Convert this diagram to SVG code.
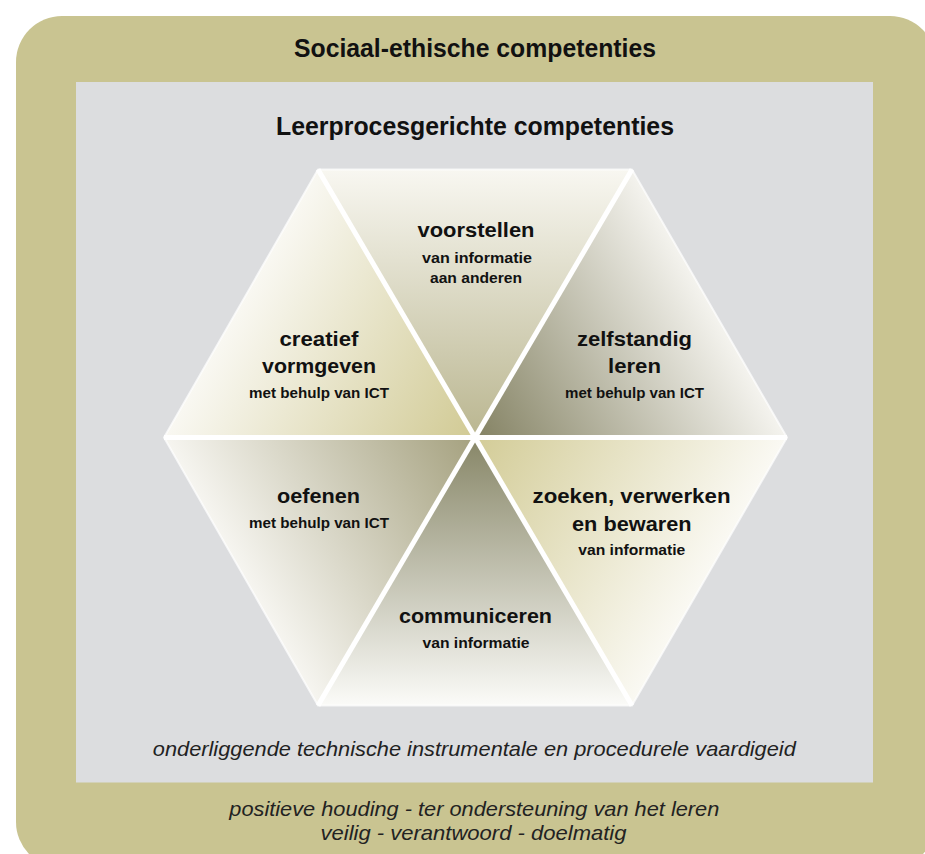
<svg xmlns="http://www.w3.org/2000/svg" width="925" height="854" viewBox="0 0 925 854">
  <style>
    .title { font-family: "Liberation Sans", Arial, sans-serif; font-weight: bold; font-size: 25px; fill: #111; text-anchor: middle; }
    .head { font-family: "Liberation Sans", Arial, sans-serif; font-weight: bold; font-size: 19.5px; fill: #111; text-anchor: middle; }
    .sub { font-family: "Liberation Sans", Arial, sans-serif; font-weight: bold; font-size: 14px; fill: #111; text-anchor: middle; }
    .note { font-family: "Liberation Sans", Arial, sans-serif; font-style: italic; font-size: 21px; fill: #222; text-anchor: middle; }
    .divider { stroke: #ffffff; stroke-width: 5; stroke-linecap: butt; }
  </style>
  <defs>
    <!-- each wedge fades from its tone at the hub to near-white at the rim -->
    <linearGradient id="gTop" gradientUnits="userSpaceOnUse" x1="475" y1="437.5" x2="475" y2="169.5">
      <stop offset="0" stop-color="#bab690"/>
      <stop offset="1" stop-color="#f8f7f1"/>
    </linearGradient>
    <linearGradient id="gTopRight" gradientUnits="userSpaceOnUse" x1="475" y1="437.5" x2="709.5" y2="303.5">
      <stop offset="0" stop-color="#848263"/>
      <stop offset="1" stop-color="#f4f3ee"/>
    </linearGradient>
    <linearGradient id="gTopLeft" gradientUnits="userSpaceOnUse" x1="475" y1="437.5" x2="241" y2="303.5">
      <stop offset="0" stop-color="#d1ca94"/>
      <stop offset="1" stop-color="#f9f8f2"/>
    </linearGradient>
    <linearGradient id="gBottomLeft" gradientUnits="userSpaceOnUse" x1="475" y1="437.5" x2="241" y2="571.5">
      <stop offset="0" stop-color="#a5a17f"/>
      <stop offset="1" stop-color="#f6f5f0"/>
    </linearGradient>
    <linearGradient id="gBottom" gradientUnits="userSpaceOnUse" x1="475" y1="437.5" x2="475" y2="705.5">
      <stop offset="0" stop-color="#878667"/>
      <stop offset="1" stop-color="#fbfbf8"/>
    </linearGradient>
    <linearGradient id="gBottomRight" gradientUnits="userSpaceOnUse" x1="475" y1="437.5" x2="709.5" y2="571.5">
      <stop offset="0" stop-color="#d3cc97"/>
      <stop offset="1" stop-color="#faf9f3"/>
    </linearGradient>
  </defs>

  <!-- outer frame and inner panel -->
  <g id="frame">
    <rect x="16" y="16" width="920" height="852" rx="46" ry="46" fill="#c9c491"/>
    <text class="title" x="475" y="57" textLength="362" lengthAdjust="spacingAndGlyphs">Sociaal-ethische competenties</text>
  </g>
  <g id="panel">
    <rect x="76" y="82" width="797" height="700.5" fill="#dcdddf"/>
    <text class="title" x="475" y="135" textLength="398" lengthAdjust="spacingAndGlyphs">Leerprocesgerichte competenties</text>
  </g>

  <!-- hexagon wedges -->
  <g id="voorstellen">
    <polygon points="318,169.5 632,169.5 475,437.5" fill="url(#gTop)"/>
    <text class="head" x="476" y="237" textLength="117" lengthAdjust="spacingAndGlyphs">voorstellen</text>
    <text class="sub" x="477" y="262.5" textLength="110" lengthAdjust="spacingAndGlyphs">van informatie</text>
    <text class="sub" x="476" y="282.5" textLength="92" lengthAdjust="spacingAndGlyphs">aan anderen</text>
  </g>
  <g id="zelfstandig-leren">
    <polygon points="632,169.5 787,437.5 475,437.5" fill="url(#gTopRight)"/>
    <text class="head" x="634.5" y="346" textLength="115" lengthAdjust="spacingAndGlyphs">zelfstandig</text>
    <text class="head" x="634.5" y="372.5" textLength="53" lengthAdjust="spacingAndGlyphs">leren</text>
    <text class="sub" x="634.5" y="398" textLength="139" lengthAdjust="spacingAndGlyphs">met behulp van ICT</text>
  </g>
  <g id="creatief-vormgeven">
    <polygon points="164,437.5 318,169.5 475,437.5" fill="url(#gTopLeft)"/>
    <text class="head" x="319" y="346" textLength="79" lengthAdjust="spacingAndGlyphs">creatief</text>
    <text class="head" x="319" y="372.5" textLength="114" lengthAdjust="spacingAndGlyphs">vormgeven</text>
    <text class="sub" x="319" y="398" textLength="140" lengthAdjust="spacingAndGlyphs">met behulp van ICT</text>
  </g>
  <g id="oefenen">
    <polygon points="164,437.5 475,437.5 318,705.5" fill="url(#gBottomLeft)"/>
    <text class="head" x="318.5" y="502.5" textLength="83" lengthAdjust="spacingAndGlyphs">oefenen</text>
    <text class="sub" x="319" y="528" textLength="140" lengthAdjust="spacingAndGlyphs">met behulp van ICT</text>
  </g>
  <g id="communiceren">
    <polygon points="318,705.5 475,437.5 632,705.5" fill="url(#gBottom)"/>
    <text class="head" x="475.5" y="622.5" textLength="153" lengthAdjust="spacingAndGlyphs">communiceren</text>
    <text class="sub" x="476" y="648" textLength="107" lengthAdjust="spacingAndGlyphs">van informatie</text>
  </g>
  <g id="zoeken-verwerken-bewaren">
    <polygon points="475,437.5 787,437.5 632,705.5" fill="url(#gBottomRight)"/>
    <text class="head" x="631.5" y="503" textLength="198" lengthAdjust="spacingAndGlyphs">zoeken, verwerken</text>
    <text class="head" x="631.8" y="530.5" textLength="119.5" lengthAdjust="spacingAndGlyphs">en bewaren</text>
    <text class="sub" x="631.8" y="555" textLength="107" lengthAdjust="spacingAndGlyphs">van informatie</text>
  </g>

  <!-- white dividers between the wedges and a soft rim -->
  <g id="dividers">
    <line class="divider" x1="164" y1="437.5" x2="787" y2="437.5"/>
    <line class="divider" x1="318" y1="169.5" x2="632" y2="705.5"/>
    <line class="divider" x1="632" y1="169.5" x2="318" y2="705.5"/>
    <polygon points="318,169.5 632,169.5 787,437.5 632,705.5 318,705.5 164,437.5" fill="none" stroke="#ffffff" stroke-opacity="0.7" stroke-width="2" stroke-linejoin="round"/>
  </g>

  <!-- footnotes -->
  <g id="notes">
    <text class="note" x="474.3" y="756" textLength="643" lengthAdjust="spacingAndGlyphs">onderliggende technische instrumentale en procedurele vaardigeid</text>
    <text class="note" x="474.3" y="815.5" textLength="490" lengthAdjust="spacingAndGlyphs">positieve houding - ter ondersteuning van het leren</text>
    <text class="note" x="473.5" y="839.5" textLength="306" lengthAdjust="spacingAndGlyphs">veilig - verantwoord - doelmatig</text>
  </g>
</svg>
